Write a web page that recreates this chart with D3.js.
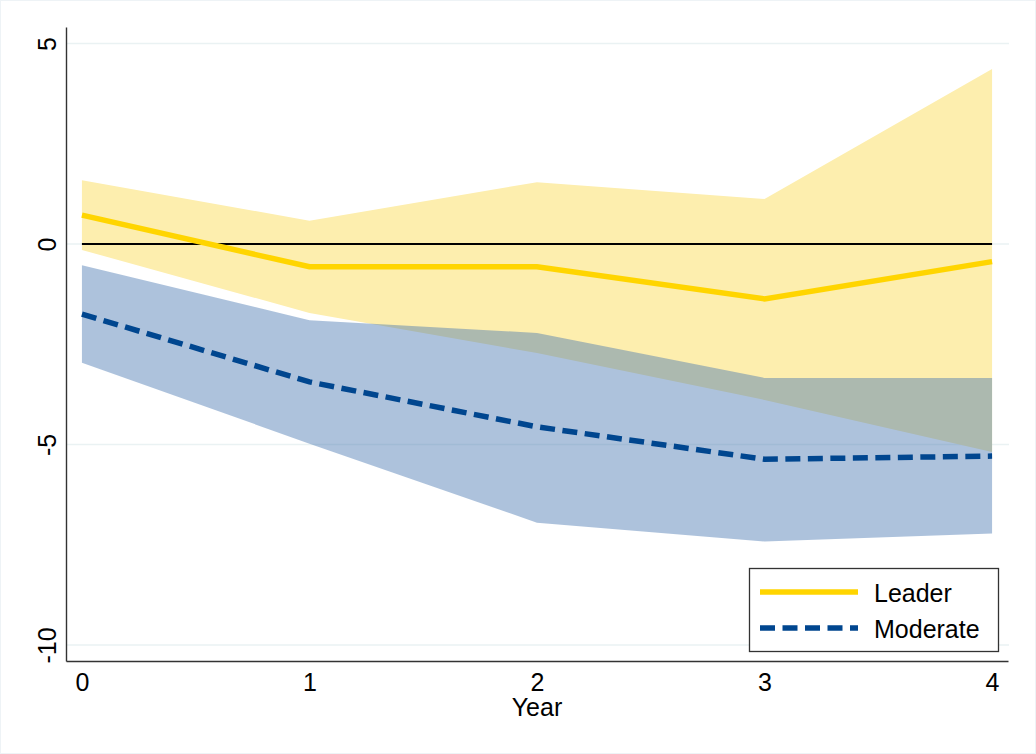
<!DOCTYPE html>
<html>
<head>
<meta charset="utf-8">
<script src="https://cdn.jsdelivr.net/npm/d3@7"></script>
<style>
  body { margin: 0; background: #fff; }
  text { font-family: "Liberation Sans", Arial, sans-serif; fill: #000; }
</style>
</head>
<body>
<svg id="chart" width="1036" height="754"></svg>
<script>
// --- Data ---------------------------------------
const years = [0, 1, 2, 3, 4];
const yTicks = [-10, -5, 0, 5];
const seriesNames = ["Leader", "Moderate"];

const leader      = [0.72, -0.57, -0.57, -1.37, -0.44];
const leaderUpper = [1.59, 0.58, 1.54, 1.12, 4.36];
const leaderLower = [-0.15, -1.72, -2.72, -3.89, -5.19];

const moderate      = [-1.75, -3.44, -4.56, -5.37, -5.29];
const moderateUpper = [-0.53, -1.90, -2.22, -3.34, -3.34];
const moderateLower = [-2.96, -4.98, -6.95, -7.42, -7.22];

const zeroLine = [0, 0, 0, 0, 0];

// --- Layout / styles ----------------------------
const W = 1036, H = 754;
const plot = {left: 66, right: 1008, top: 27, bottom: 661};
const fontSize = "25px";

const styles = {
  Leader:   {line: "#ffd500", band: "#fdeeae", bandOpacity: 1, dash: null},
  Moderate: {line: "#00468f", band: "rgb(73,120,178)", bandOpacity: 0.45, dash: "15,7.5"}
};

const svg = d3.select("#chart");

// faint outer frame like the Stata graph region
svg.append("rect")
  .attr("x", 0.5).attr("y", 0.5)
  .attr("width", W - 1).attr("height", H - 1)
  .attr("fill", "#fff")
  .attr("stroke", "#eef3f6");

const x = d3.scaleLinear().domain([-0.07, 4.07]).range([plot.left, plot.right]);
const y = d3.scaleLinear().domain([-10.4, 5.41]).range([plot.bottom, plot.top]);

// grid lines
svg.append("g")
  .selectAll("line")
  .data(yTicks)
  .join("line")
  .attr("x1", plot.left).attr("x2", plot.right + 1)
  .attr("y1", d => y(d)).attr("y2", d => y(d))
  .attr("stroke", "#eaf2f3")
  .attr("stroke-width", 1.6);

// confidence bands
const bands = [
  {name: "Leader", lo: leaderLower, hi: leaderUpper},
  {name: "Moderate", lo: moderateLower, hi: moderateUpper}
];

const area = d3.area()
  .x((d, i) => x(years[i]))
  .y0(d => y(d[0]))
  .y1(d => y(d[1]));

bands.forEach(b => {
  svg.append("path")
    .datum(b.lo.map((v, i) => [v, b.hi[i]]))
    .attr("d", area)
    .attr("fill", styles[b.name].band)
    .attr("fill-opacity", styles[b.name].bandOpacity);
});

const line = d3.line()
  .x((d, i) => x(years[i]))
  .y(d => y(d));

// zero reference line
svg.append("path")
  .datum(zeroLine)
  .attr("d", line)
  .attr("fill", "none")
  .attr("stroke", "#000")
  .attr("stroke-width", 2);

// point estimates
[["Leader", leader], ["Moderate", moderate]].forEach(([name, vals]) => {
  svg.append("path")
    .datum(vals)
    .attr("d", line)
    .attr("fill", "none")
    .attr("stroke", styles[name].line)
    .attr("stroke-width", 5.5)
    .attr("stroke-dasharray", styles[name].dash);
});

// --- Axes ---------------------------------------
// plain hyphen for negatives, like the original
const plainFormat = d => String(d);

const yAxis = svg.append("g")
  .attr("transform", `translate(${plot.left},0)`)
  .call(d3.axisLeft(y).tickValues(yTicks).tickFormat(plainFormat)
    .tickSize(0).tickSizeOuter(0));

yAxis.select(".domain").attr("stroke", "#333").attr("stroke-width", 1.4);
yAxis.selectAll("text")
  .attr("x", 0).attr("y", 0).attr("dy", 0)
  .attr("transform", "translate(-10,0) rotate(-90)")
  .attr("text-anchor", "middle")
  .style("font-size", fontSize)
  .style("font-family", "'Liberation Sans', Arial, sans-serif")
  .attr("fill", "#000");

const xAxis = svg.append("g")
  .attr("transform", `translate(0,${plot.bottom})`)
  .call(d3.axisBottom(x).tickValues(years).tickFormat(plainFormat)
    .tickSize(0).tickSizeOuter(0).tickPadding(12));

xAxis.select(".domain").attr("stroke", "#333").attr("stroke-width", 1.4);
xAxis.selectAll("text")
  .style("font-size", fontSize)
  .style("font-family", "'Liberation Sans', Arial, sans-serif")
  .attr("fill", "#000");

svg.append("text")
  .attr("x", (x(0) + x(4)) / 2)
  .attr("y", 716)
  .attr("text-anchor", "middle")
  .style("font-size", fontSize)
  .text("Year");

// --- Legend -------------------------------------
const legend = svg.append("g");
legend.append("rect")
  .attr("x", 749.5).attr("y", 568.5)
  .attr("width", 249).attr("height", 83)
  .attr("fill", "#fff")
  .attr("stroke", "#333")
  .attr("stroke-width", 1.3);

seriesNames.forEach((name, i) => {
  const ly = 592 + i * 36;
  legend.append("line")
    .attr("x1", 760).attr("x2", 858)
    .attr("y1", ly).attr("y2", ly)
    .attr("stroke", styles[name].line)
    .attr("stroke-width", 5.5)
    .attr("stroke-dasharray", styles[name].dash);
  legend.append("text")
    .attr("x", 874)
    .attr("y", ly + 9.5)
    .style("font-size", fontSize)
    .text(name);
});
</script>
</body>
</html>
